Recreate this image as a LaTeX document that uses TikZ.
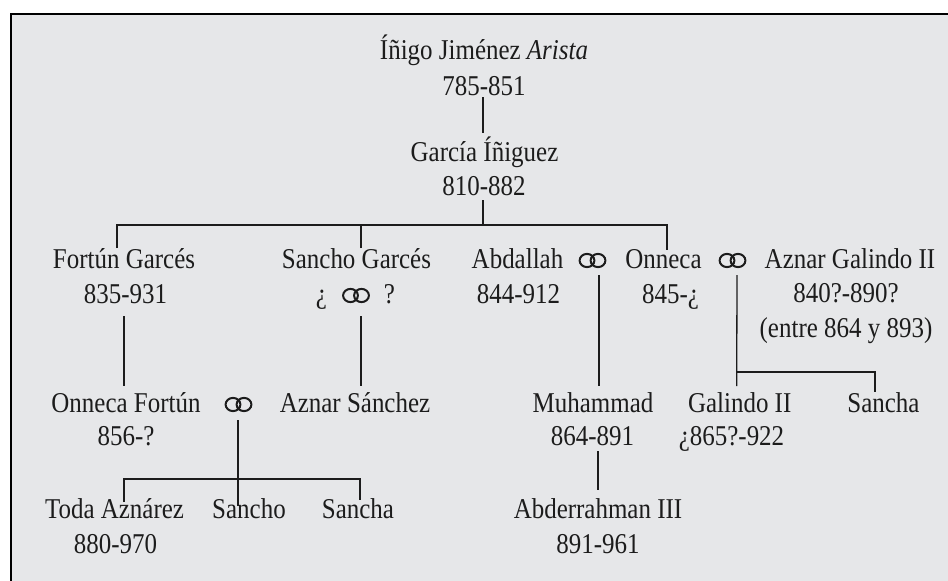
\documentclass[tikz,border=0pt]{standalone}
\usepackage{fontspec}
\setmainfont{Liberation Serif}[FakeStretch=0.87]
\usetikzlibrary{calc}
\definecolor{bg}{HTML}{E6E7E9}
\definecolor{ink}{HTML}{1C1C1C}
\begin{document}
\begin{tikzpicture}[x=1pt,y=-1pt,
  lbl/.style={font=\fontsize{28.7}{34}\selectfont, inner sep=0pt, anchor=base, text=ink},
  link/.style={line width=1.3pt, draw=ink},
  frame/.style={line width=2pt, draw=black},
  wedring/.pic={\draw[line width=2pt, draw=ink] (-5.5,0) ellipse[x radius=7.4, y radius=6.6] (5.5,0) ellipse[x radius=7.4, y radius=6.6];}]
\useasboundingbox (0,0) rectangle (948,581);
\fill[bg] (10.5,13.5) rectangle (948,581);
\draw[frame] (10.5,581) -- (10.5,13.5) -- (948,13.5);

% generation 0-1
\node[lbl] (t1)  at (484,59)  {Íñigo Jiménez \textit{Arista}};
\node[lbl] (t1y) at (484,95)  {785-851};
\node[lbl] (g)   at (484.5,161) {García Íñiguez};
\node[lbl] (gy)  at (484,195) {810-882};

% generation 2
\node[lbl] (fo)  at (124,268)   {Fortún Garcés};
\node[lbl] (foy) at (125.5,303) {835-931};
\node[lbl] (sg)  at (356.5,268) {Sancho Garcés};
\node[lbl] (sgq1) at (321.5,303) {¿};
\node[lbl] (sgq2) at (389.5,303) {?};
\node[lbl] (ab)  at (517.5,268) {Abdallah};
\node[lbl] (aby) at (518.5,303) {844-912};
\node[lbl] (on)  at (663.5,268) {Onneca};
\node[lbl] (ony) at (670.5,303) {845-¿};
\node[lbl] (az)  at (850,268)   {Aznar Galindo II};
\node[lbl] (azy) at (846,302)   {840?-890?};
\node[lbl] (aze) at (846,337)   {(entre 864 y 893)};

% generation 3
\node[lbl] (of)  at (126,412)   {Onneca Fortún};
\node[lbl] (ofy) at (126,445)   {856-?};
\node[lbl] (as)  at (355,412)   {Aznar Sánchez};
\node[lbl] (mu)  at (593,412)   {Muhammad};
\node[lbl] (muy) at (592.5,445) {864-891};
\node[lbl] (ga)  at (739.7,412) {Galindo II};
\node[lbl] (gay) at (731.5,445) {¿865?-922};
\node[lbl] (sa2) at (883.5,412) {Sancha};

% generation 4
\node[lbl] (to)  at (114.5,518) {Toda Aznárez};
\node[lbl] (toy) at (115.5,553) {880-970};
\node[lbl] (sc)  at (249,518)   {Sancho};
\node[lbl] (sa1) at (358,518)   {Sancha};
\node[lbl] (abd) at (598,518)   {Abderrahman III};
\node[lbl] (abdy) at (598,553)  {891-961};

% marriage rings
\coordinate (w0) at (356,295.5);
\coordinate (w1) at (592.5,260.5);
\coordinate (w2) at (732.5,260.5);
\coordinate (w3) at (238.5,404.5);
\foreach \w in {w0,w1,w2,w3} \pic at (\w) {wedring};

% junctions
\coordinate (bc)  at (483,225);
\coordinate (br)  at (667,225);
\coordinate (j2)  at (737,372);
\coordinate (j3r) at (360,479);

% connectors
\draw[link] ($(t1y.base)+(-1,2)$) -- ($(g.base)+(-1.5,-28)$);
\draw[link] ($(gy.base)+(-1,5)$) -- (bc);
\draw[link] ($(fo.base)+(-7,-20)$) |- (br) -- ($(on.base)+(3.5,-18)$);
\draw[link] ($(sg.base)+(4.5,-20)$) -- ++(0,-23);
\draw[link] ($(foy.base)+(-1.5,13)$) -- ($(of.base)+(-2,-26)$);
\draw[link] ($(w0)+(5,20.5)$) -- ($(as.base)+(6,-26)$);
\draw[link] ($(w1)+(6.5,14.5)$) -- ($(mu.base)+(6,-26)$);
\draw[link] ($(w2)+(4.5,14.5)$) -- ($(ga.base)+(-3,-26)$);
\draw[link] (j2) -| ($(sa2.base)+(-8.5,-20)$);
\draw[link] ($(w3)+(-0.5,15.5)$) -- ($(sc.base)+(-11,-12)$);
\draw[link] ($(to.base)+(9.5,-16)$) |- (j3r) -- ($(sa1.base)+(2,-18)$);
\draw[link] ($(muy.base)+(5.5,6)$) -- ($(abd.base)+(0,-28)$);
\end{tikzpicture}
\end{document}
